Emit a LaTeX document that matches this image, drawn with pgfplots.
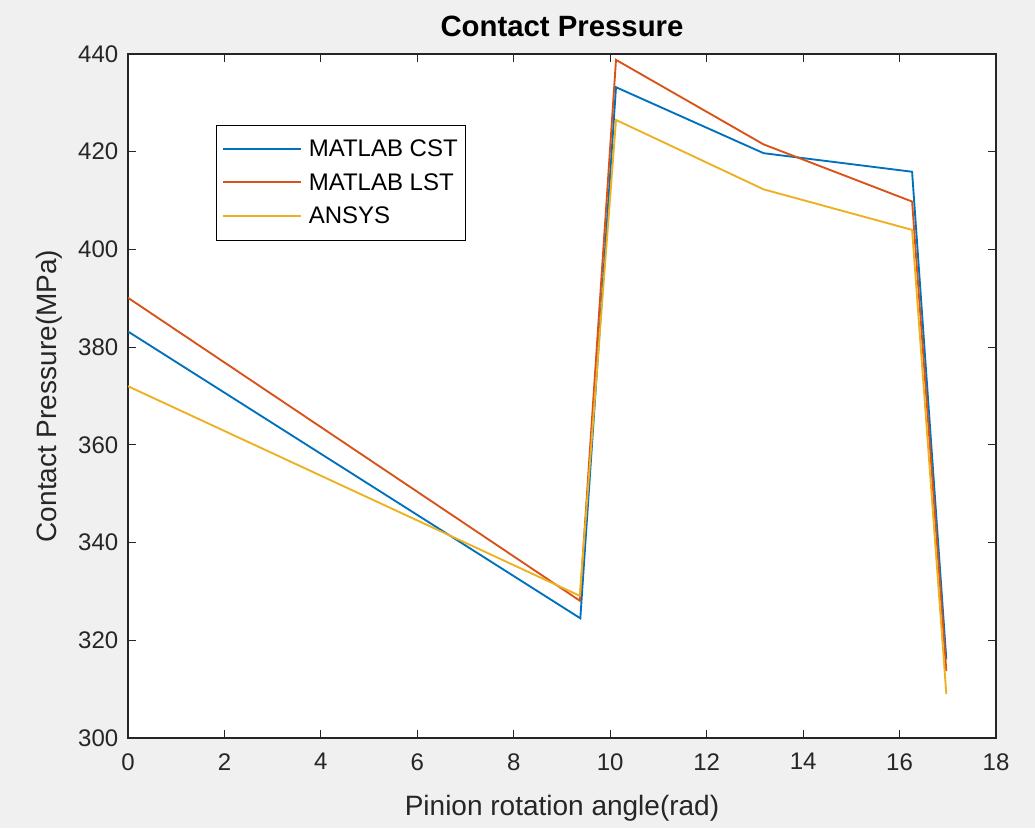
\documentclass[border=0pt]{standalone}
\usepackage{pgfplots}
\pgfplotsset{compat=1.18}
\usepackage{fontspec}
\setmainfont{Liberation Sans}

\definecolor{mblue}{rgb}{0,0.447,0.741}
\definecolor{morange}{rgb}{0.85,0.325,0.098}
\definecolor{myellow}{rgb}{0.929,0.694,0.125}
\definecolor{figbg}{rgb}{0.94,0.94,0.94}
\definecolor{axgray}{rgb}{0.15,0.15,0.15}

\begin{document}
\begin{tikzpicture}
% figure background (1 px = 0.75pt)
\fill[figbg] (-96pt,-67.5pt) rectangle (680.25pt,553.5pt);
\begin{axis}[
    at={(0,0)}, anchor=south west,
    scale only axis,
    width=651pt, height=513pt,
    xmin=0, xmax=18,
    ymin=300, ymax=440,
    xtick={0,2,...,18},
    ytick={300,320,...,440},
    axis background/.style={fill=white},
    axis line style={axgray, line width=0.9pt},
    tick style={axgray, line width=0.9pt},
    major tick length=6pt,
    xtick pos=both, ytick pos=both,
    xticklabel pos=lower, yticklabel pos=left,
    /pgf/number format/assume math mode=true,
    tick label style={font=\fontsize{18}{20}\selectfont, text=axgray},
    yticklabel style={xshift=-3.75pt},
    xticklabel style={yshift=-8pt},
    xlabel={Pinion rotation angle(rad)},
    ylabel={Contact Pressure(MPa)},
    label style={font=\fontsize{21}{24}\selectfont, text=axgray},
    xlabel style={at={(0.5,-0.1126)}, anchor=base},
    ylabel style={at={(-0.0818,0.5)}, anchor=base},
    title={Contact Pressure},
    title style={at={(0.5,1.0146)}, anchor=base, font=\fontsize{22}{24}\selectfont\bfseries},
    legend style={at={(0.1014,0.8962)}, anchor=north west, draw=black,
        fill=white, font=\fontsize{18}{20}\selectfont,
        cells={anchor=west}, inner xsep=4pt, inner ysep=9pt, row sep=7pt},
    legend image code/.code={\draw[#1, line width=1.4pt] (0pt,0.3pt) -- (59pt,0.3pt); \path (62pt,0pt);},
]

\addplot[color=mblue, line width=1.4pt] coordinates {
    (0,383.2) (9.38,324.5) (10.12,433.2) (13.18,419.7) (16.26,415.9) (16.97,316.1)
};
\addlegendentry{MATLAB CST}

\addplot[color=morange, line width=1.4pt] coordinates {
    (0,390.1) (9.37,328.1) (10.12,438.8) (13.18,421.5) (16.26,409.8) (16.97,313.7)
};
\addlegendentry{MATLAB LST}

\addplot[color=myellow, line width=1.4pt] coordinates {
    (0,372.0) (9.37,329.1) (10.12,426.5) (13.18,412.3) (16.26,404.0) (16.97,309.0)
};
\addlegendentry{ANSYS}

\end{axis}
\pgfresetboundingbox
\path[use as bounding box] (-96pt,-67.5pt) rectangle (680.25pt,553.5pt);
\end{tikzpicture}
\end{document}
